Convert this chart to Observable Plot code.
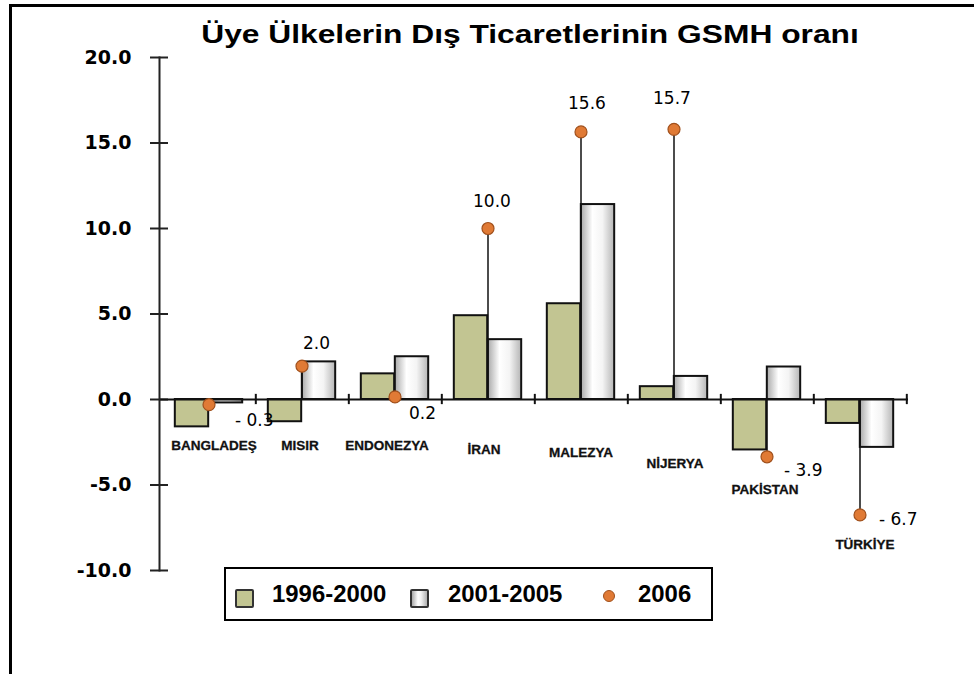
<!DOCTYPE html>
<html>
<head>
<meta charset="utf-8">
<script src="https://cdn.jsdelivr.net/npm/d3@7"></script>
<script src="https://cdn.jsdelivr.net/npm/@observablehq/plot@0.6"></script>
<style>
  html, body { margin: 0; padding: 0; background: #fff; }
  #wrap { position: relative; width: 974px; height: 674px; overflow: hidden; font-family: "Liberation Sans", Arial, sans-serif; }
  #border { position: absolute; left: 9px; top: 4px; right: -5px; bottom: -5px; border-left: 3px solid #000; border-top: 3px solid #000; }
  #title { position: absolute; left: 530px; top: 20px; white-space: nowrap; font-weight: bold; font-size: 25px; color: #000; transform: translateX(-50%) scaleX(1.27); transform-origin: center; }
  #chart { position: absolute; left: 0; top: 0; }
  #legend { position: absolute; left: 224px; top: 567px; width: 489px; height: 54px; border: 2px solid #000; box-sizing: border-box; background: #fff; }
  .li { position: absolute; top: 12px; font-weight: bold; font-size: 23px; line-height: 26px; color: #000; transform: scaleX(1.04); transform-origin: left; }
  .sw { position: absolute; top: 20px; width: 15px; height: 15px; border: 2px solid #333; border-radius: 2px; box-sizing: content-box; }
</style>
</head>
<body>
<div id="wrap">
  <div id="chart"></div>
  <div id="border"></div>
  <div id="title"></div>
  <div id="legend"></div>
</div>
<script>
// ---- data ----
const countries = ["BANGLADEŞ", "MISIR", "ENDONEZYA", "İRAN", "MALEZYA", "NİJERYA", "PAKİSTAN", "TÜRKİYE"];
const v1996_2000 = [-1.6, -1.3, 1.5, 4.9, 5.6, 0.75, -2.95, -1.4];
const v2001_2005 = [-0.2, 2.2, 2.5, 3.5, 11.4, 1.35, 1.9, -2.8];
// 2006 marker positions as drawn in the picture (Pakistan's marker sits near -3.35)
const v2006 = [-0.3, 1.95, 0.15, 10.0, 15.65, 15.8, -3.35, -6.75];
const labels2006 = ["- 0.3", "2.0", "0.2", "10.0", "15.6", "15.7", "- 3.9", "- 6.7"];
const seriesNames = ["1996-2000", "2001-2005", "2006"];
const yTicks = [-10, -5, 0, 5, 10, 15, 20];
const titleText = "Üye Ülkelerin Dış Ticaretlerinin GSMH oranı";

// ---- layout (pixel offsets only) ----
const nameDx = [5, -2, -8, -4, 0, 1, -2, 5];
const nameDy = [46, 46, 46, 50, 53, 64, 90, 145];
const labDx = [26, 1, 14, -15, -13, -21, 17, 19];
const labDy = [16, -23, 17, -27, -28, -31, 14, 5];

const colGreen = "#c2c592";
const colOrange = "#e07a35";

const idx = countries.map((_, i) => i);
const W = 974, H = 674, mL = 159, mR = 66, mT = 57, mB = 104;
const bandW = (W - mL - mR) / countries.length;
const barW = 34;

const marks = [
  Plot.ruleY(yTicks, {stroke: "#222", strokeWidth: 2, insetLeft: -9, insetRight: (W - mL - mR) - 9}),
  Plot.barY(idx, {x: i => countries[i], y1: 0, y2: i => v1996_2000[i], fill: colGreen, stroke: "#111", strokeWidth: 2,
    insetLeft: bandW / 2 - barW, insetRight: bandW / 2}),
  Plot.barY(idx, {x: i => countries[i], y1: 0, y2: i => v2001_2005[i], fill: "url(#whiteGrad)", stroke: "#111", strokeWidth: 2,
    insetLeft: bandW / 2, insetRight: bandW / 2 - barW}),
  Plot.ruleY([0], {stroke: "#111", strokeWidth: 2}),
  Plot.ruleX(idx, {x: i => countries[i], dx: bandW / 2, y1: -0.3, y2: 0.3, stroke: "#111", strokeWidth: 2}),
  Plot.frame({anchor: "left", stroke: "#222", strokeWidth: 2}),
  Plot.ruleX(idx, {x: i => countries[i], y1: 0, y2: i => v2006[i], stroke: "#111", strokeWidth: 1.5}),
  Plot.dot(idx, {x: i => countries[i], y: i => v2006[i], r: 6, fill: colOrange, stroke: "#a0501c", strokeWidth: 1.2}),
  Plot.axisY({ticks: yTicks, tickSize: 0, tickPadding: 28, tickFormat: d => d.toFixed(1),
    fontSize: 19, fontWeight: "bold", fontFamily: "DejaVu Sans", fill: "#000"}),
  ...idx.map(i => Plot.text([i], {x: j => countries[j], y: j => v2006[j], text: j => labels2006[j],
    dx: labDx[i], dy: labDy[i], textAnchor: "start", lineAnchor: "middle", fontSize: 17, fontFamily: "DejaVu Sans", fill: "#000"})),
  ...idx.map(i => Plot.text([i], {x: j => countries[j], y: () => 0, text: j => countries[j],
    dx: nameDx[i], dy: nameDy[i], textAnchor: "middle", lineAnchor: "middle", fontSize: 13.5, fontWeight: "bold", fill: "#111",
    stroke: "#111", strokeWidth: 0.3}))
];

const chart = Plot.plot({
  width: W, height: H,
  marginLeft: mL, marginRight: mR, marginTop: mT, marginBottom: mB,
  style: {fontFamily: "'Liberation Sans', Arial, sans-serif", background: "transparent", overflow: "visible"},
  x: {type: "band", domain: countries, padding: 0, axis: null},
  y: {domain: [-10, 20], axis: null},
  marks
});

const ns = "http://www.w3.org/2000/svg";
const defs = document.createElementNS(ns, "defs");
const grad = document.createElementNS(ns, "linearGradient");
grad.setAttribute("id", "whiteGrad");
grad.setAttribute("x1", "0"); grad.setAttribute("x2", "1"); grad.setAttribute("y1", "0"); grad.setAttribute("y2", "0");
[["0%", "#a9a9a9"], ["35%", "#ffffff"], ["65%", "#f4f4f4"], ["100%", "#b5b5b5"]].forEach(([o, c]) => {
  const s = document.createElementNS(ns, "stop");
  s.setAttribute("offset", o); s.setAttribute("stop-color", c);
  grad.appendChild(s);
});
defs.appendChild(grad);
chart.insertBefore(defs, chart.firstChild);
document.getElementById("chart").appendChild(chart);

document.getElementById("title").textContent = titleText;

const legend = document.getElementById("legend");
const legendItems = [
  {name: seriesNames[0], sw: {left: 9, bg: colGreen, round: false}, tx: 46},
  {name: seriesNames[1], sw: {left: 184, bg: "linear-gradient(90deg,#aaa,#fff 40%,#f2f2f2 60%,#b0b0b0)", round: false}, tx: 222},
  {name: seriesNames[2], sw: {left: 377, bg: colOrange, round: true}, tx: 412}
];
legendItems.forEach(it => {
  const s = document.createElement("div");
  s.className = "sw";
  s.style.left = it.sw.left + "px";
  s.style.background = it.sw.bg;
  if (it.sw.round) {
    s.style.width = "10px"; s.style.height = "10px"; s.style.top = "21px";
    s.style.borderRadius = "50%"; s.style.border = "1.5px solid #a0501c";
  }
  legend.appendChild(s);
  const t = document.createElement("div");
  t.className = "li";
  t.style.left = it.tx + "px";
  t.textContent = it.name;
  legend.appendChild(t);
});
</script>
</body>
</html>
